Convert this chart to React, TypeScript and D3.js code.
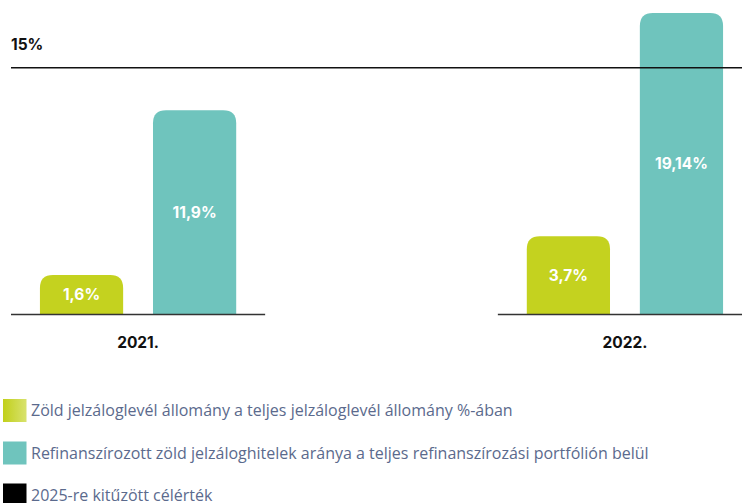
import * as React from "react";
import * as d3 from "d3";

const years = ["2021.", "2022."];
const series = ["zold", "refi"];
const zoldValues = [1.6, 3.7];
const refiValues = [11.9, 19.14];
const target = 15;
const legendLabels = [
  "Zöld jelzáloglevél állomány a teljes jelzáloglevél állomány %-ában",
  "Refinanszírozott zöld jelzáloghitelek aránya a teljes refinanszírozási portfólión belül",
  "2025-re kitűzött célérték",
];

const GREEN = "#c4d21f";
const TEAL = "#6fc4bd";
const width = 742;
const height = 503;
const baseline = 314.5;

const fmt = (v: number) => String(v).replace(".", ",") + "%";

// top-rounded bar path
const barPath = (x: number, y: number, w: number, h: number, r: number) => {
  const rr = Math.min(r, h, w / 2);
  return `M${x},${y + h} V${y + rr} Q${x},${y} ${x + rr},${y} H${x + w - rr} Q${x + w},${y} ${x + w},${y + rr} V${y + h} Z`;
};

const App = () => {
  React.useEffect(() => {
    document.body.style.margin = "0";
  }, []);

  const x0 = d3.scaleBand().domain(years).range([11, 752]).paddingInner(0.478);
  const x1 = d3
    .scaleBand()
    .domain(series)
    .range([0, x0.bandwidth()])
    .paddingInner(0.264)
    .paddingOuter(0.256);
  const y = d3.scalePow().exponent(0.82).domain([0, 20]).range([baseline, 2]);

  const rows = years.map((yr, i) => ({
    year: yr,
    bars: [
      { key: "zold", value: zoldValues[i], color: GREEN },
      { key: "refi", value: refiValues[i], color: TEAL },
    ],
  }));

  const legendY = [410.5, 453, 495];

  return (
    <svg width={width} height={height} style={{ display: "block" }}>
      <defs>
        <linearGradient id="lg-green" x1="0" x2="1" y1="0" y2="0">
          <stop offset="0" stopColor="#c1d01a" />
          <stop offset="1" stopColor="#d8e26e" />
        </linearGradient>
      </defs>

      {rows.map((row) => {
        const gx = x0(row.year)!;
        return (
          <g key={row.year} transform={`translate(${gx},0)`}>
            {row.bars.map((b) => {
              const bx = x1(b.key)!;
              const top = y(b.value);
              return (
                <g key={b.key}>
                  <path d={barPath(bx, top, x1.bandwidth(), baseline - top, 13)} fill={b.color} />
                  <text
                    x={bx + x1.bandwidth() / 2}
                    y={(top + baseline) / 2}
                    dy="0.36em"
                    textAnchor="middle"
                    fill="#fff"
                    fontFamily="Inter, sans-serif"
                    fontWeight={700}
                    fontSize={15.5}
                  >
                    {fmt(b.value)}
                  </text>
                </g>
              );
            })}
            <line x1={0} x2={x0.bandwidth()} y1={baseline} y2={baseline} stroke="#333" strokeWidth={1.3} />
            <text
              x={x1(series[0])! + (x1(series[1])! + x1.bandwidth() - x1(series[0])!) / 2}
              y={342}
              dy="0.36em"
              textAnchor="middle"
              fill="#111"
              fontFamily="Inter, sans-serif"
              fontWeight={700}
              fontSize={15.5}
            >
              {row.year}
            </text>
          </g>
        );
      })}

      <line x1={11} x2={width} y1={y(target)} y2={y(target)} stroke="#111" strokeWidth={1.5} />
      <text
        x={11}
        y={44}
        dy="0.36em"
        fill="#111"
        fontFamily="Inter, sans-serif"
        fontWeight={700}
        fontSize={15.5}
      >
        {target}%
      </text>

      {legendLabels.map((lab, i) => (
        <g key={lab}>
          <rect
            x={3}
            y={legendY[i] - 11.5}
            width={23.5}
            height={23}
            fill={i === 0 ? "url(#lg-green)" : i === 1 ? TEAL : "#000"}
          />
          <text
            x={31}
            y={legendY[i]}
            dy="0.36em"
            fill="#5b6a8d"
            fontFamily="'Open Sans', sans-serif"
            fontWeight={400}
            fontSize={16}
          >
            {lab}
          </text>
        </g>
      ))}
    </svg>
  );
};

export default App;
